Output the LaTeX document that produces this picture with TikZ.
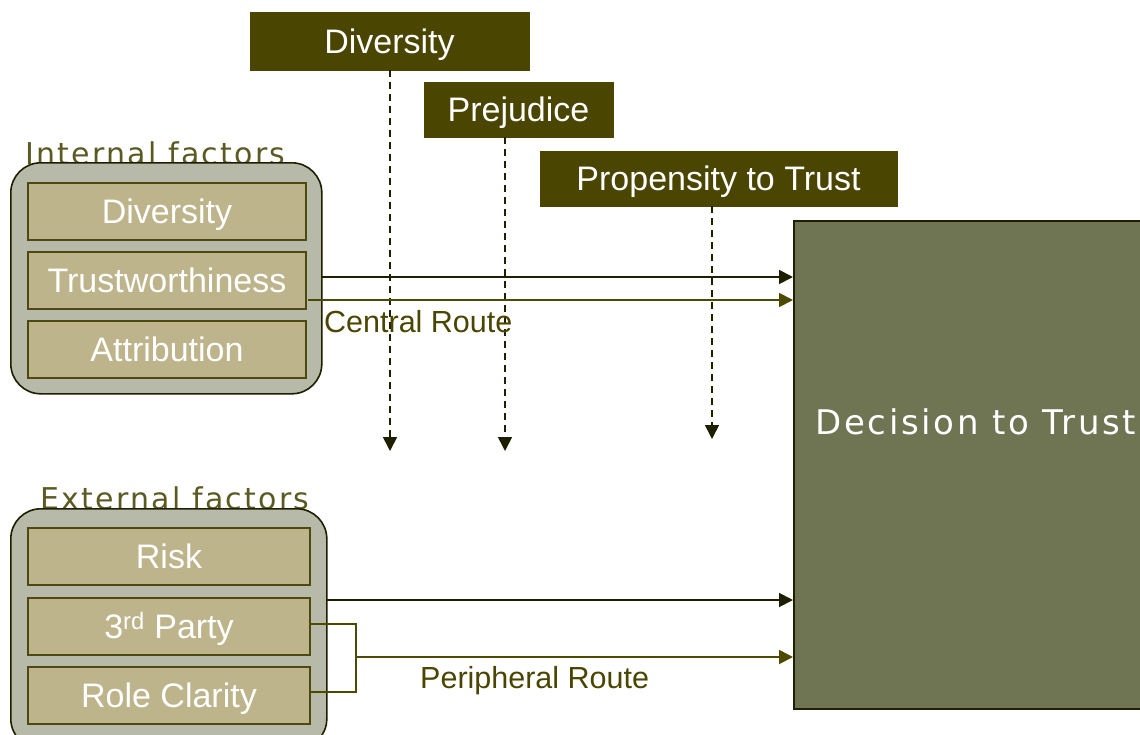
\documentclass[tikz,border=0pt]{standalone}
\usepackage{fontspec}
\setmainfont{Liberation Sans}
\newfontfamily\grouplabelfont[LetterSpace=7.5]{DejaVu Sans}
\newfontfamily\decfont[LetterSpace=8]{DejaVu Sans}
\usetikzlibrary{arrows.meta}
\definecolor{darkol}{HTML}{4A4500}
\definecolor{groupfill}{HTML}{B7BAA8}
\definecolor{innerfill}{HTML}{BDB48B}
\definecolor{innerdraw}{HTML}{4D4A10}
\definecolor{decfill}{HTML}{6F7453}
\definecolor{linedark}{HTML}{1E1E00}
\definecolor{lineol}{HTML}{4D4A00}
\definecolor{labelol}{HTML}{5B5A23}
\tikzset{
  boxtext/.style={font=\fontsize{34}{40}\selectfont, text height=30pt, text depth=6pt},
  topbox/.style={draw=darkol, fill=darkol, text=white, boxtext, inner sep=0pt},
  groupbox/.style={draw=linedark, line width=1.6pt, fill=groupfill, rounded corners=30pt, inner sep=0pt},
  innerbox/.style={draw=innerdraw, line width=1.6pt, fill=innerfill, text=white, boxtext, inner sep=0pt},
  decbox/.style={draw=linedark, line width=1.6pt, fill=decfill, inner sep=0pt},
  grouplabel/.style={text=labelol, font=\grouplabelfont\fontsize{30}{36}\selectfont, inner sep=0pt},
  routelabel/.style={text=darkol, font=\fontsize{30.5}{36}\selectfont, inner sep=0pt},
  solidarrow/.style={draw=linedark, line width=1.8pt, -{Triangle[length=14pt,width=14pt]}},
  olivearrow/.style={draw=lineol, line width=1.8pt, -{Triangle[length=14pt,width=14pt]}},
  oliveline/.style={draw=lineol, line width=1.8pt},
  dasharrow/.style={draw=linedark, line width=1.6pt, dash pattern=on 7pt off 5pt, -{Triangle[length=14pt,width=14pt]}},
}
\begin{document}
\begin{tikzpicture}[x=1pt,y=-1pt]
\useasboundingbox (0,0) rectangle (1140,734);
\fill[white] (0,0) rectangle (1140,734);

% group labels (drawn first)
\node[grouplabel, anchor=base west] (intlabel) at (25,164) {Internal factors};
\node[grouplabel, anchor=base west] (extlabel) at (40,509) {External factors};

% decision box
\node[decbox, anchor=north west, minimum width=360pt, minimum height=488pt] (dec) at (793,220) {};
\node[anchor=west, text=white, font=\decfont\fontsize{34}{40}\selectfont, inner sep=0pt] (dectext) at (815,422) {Decision to Trust};

% internal group
\node[groupbox, anchor=north west, minimum width=311pt, minimum height=231pt] (ig) at (10,162) {};
\node[innerbox, minimum width=278pt, minimum height=57pt] (idiv) at (167,211.5) {Diversity};
\node[innerbox, minimum width=278pt, minimum height=57pt] (itw) at (167,280.5) {Trustworthiness};
\node[innerbox, minimum width=278pt, minimum height=57pt] (iatt) at (167,349.5) {Attribution};

% external group
\node[groupbox, anchor=north west, minimum width=316pt, minimum height=240pt] (eg) at (10,508) {};
\node[innerbox, minimum width=282pt, minimum height=57pt] (erisk) at (169,556.5) {Risk};
\node[innerbox, minimum width=282pt, minimum height=57pt] (etp) at (169,626.5) {3\textsuperscript{rd} Party};
\node[innerbox, minimum width=282pt, minimum height=57pt] (erc) at (169,695.5) {Role Clarity};

% top boxes
\node[topbox, minimum width=279pt, minimum height=58pt] (tdiv) at (389.5,41) {Diversity};
\node[topbox, minimum width=189pt, minimum height=55pt] (tpre) at (518.5,109.5) {Prejudice};
\node[topbox, minimum width=357pt, minimum height=55pt] (tprop) at (718.5,178.5) {Propensity to Trust};

% dashed arrows
\coordinate (d1) at (390,451);
\coordinate (d2) at (505,451);
\coordinate (d3) at (712,439);
\draw[dasharrow] (tdiv.south -| d1) -- (d1);
\draw[dasharrow] (tpre.south -| d2) -- (d2);
\draw[dasharrow] (tprop.south -| d3) -- (d3);

% central route
\coordinate (c1) at (321,277);
\coordinate (c2) at (308,300);
\draw[solidarrow] (c1) -- (dec.west |- c1);
\draw[olivearrow] (c2) -- (dec.west |- c2);
\node[routelabel, anchor=west] (central) at (324,322) {Central Route};

% peripheral route
\coordinate (p1) at (326,600);
\draw[solidarrow] (p1) -- (dec.west |- p1);
\coordinate (b1) at (310,624);
\coordinate (b2) at (356,624);
\coordinate (b3) at (356,692);
\coordinate (b4) at (310,692);
\coordinate (bm) at (356,657);
\draw[oliveline] (b1) -- (b2) -- (b3) -- (b4);
\draw[olivearrow] (bm) -- (dec.west |- bm);
\node[routelabel, anchor=west] (periph) at (420,681) {Peripheral Route};
\end{tikzpicture}
\end{document}
